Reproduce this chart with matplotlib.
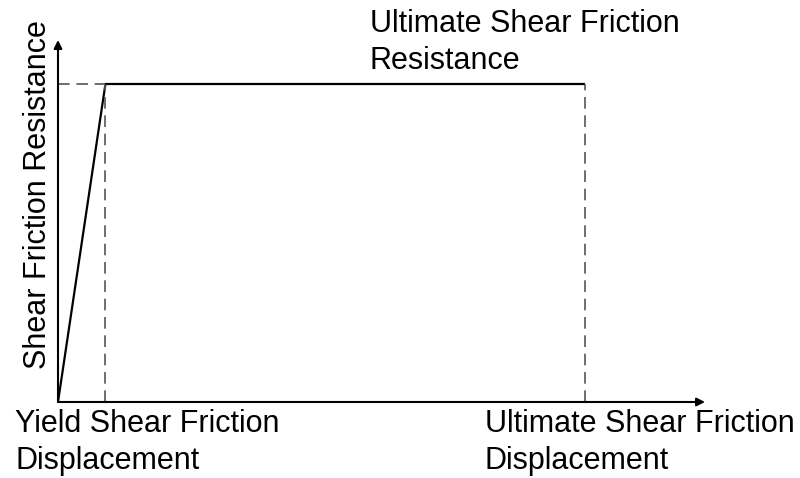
import matplotlib.pyplot as plt

plt.rcParams['font.family'] = ['Liberation Sans', 'DejaVu Sans']

# idealised shear friction law (normalised units)
disp = [0.0, 0.09, 1.0]
resist = [0.0, 1.0, 1.0]
yield_disp = 0.09
ult_disp = 1.0
ult_resist = 1.0

fig = plt.figure(figsize=(8, 4.78), dpi=100)
ax = fig.add_axes([58/800, 76/478, 647/800, 362/478])
xmax = 647/527
ymax = 362/318
ax.set_xlim(0, xmax)
ax.set_ylim(0, ymax)
for s in ax.spines.values():
    s.set_visible(False)
ax.set_xticks([])
ax.set_yticks([])

# axes with arrows
arrow = dict(arrowstyle='-|>', color='black', lw=1.5, mutation_scale=12, shrinkA=0, shrinkB=0)
ax.annotate('', xy=(xmax, 0), xytext=(0, 0), arrowprops=arrow, annotation_clip=False)
ax.annotate('', xy=(0, ymax), xytext=(0, 0), arrowprops=arrow, annotation_clip=False)

ax.plot(disp, resist, color='black', lw=1.6, solid_capstyle='butt', clip_on=False)

dash = dict(color='#555555', lw=1.2, dashes=(7, 4), clip_on=False)
ax.plot([0, yield_disp], [ult_resist, ult_resist], **dash)
ax.plot([yield_disp, yield_disp], [0, ult_resist], **dash)
ax.plot([ult_disp, ult_disp], [0, ult_resist], **dash)

fs = 22
fig.text(38/800, 1 - 195/478, 'Shear Friction Resistance', rotation=90, fontsize=fs,
         ha='center', va='center')
fig.text(15/800, 1 - 409/478, 'Yield Shear Friction\nDisplacement', fontsize=fs,
         ha='left', va='top', linespacing=1.3)
fig.text(485/800, 1 - 409/478, 'Ultimate Shear Friction\nDisplacement', fontsize=fs,
         ha='left', va='top', linespacing=1.3)
fig.text(370/800, 1 - 9/478, 'Ultimate Shear Friction\nResistance', fontsize=fs,
         ha='left', va='top', linespacing=1.3)

fig.savefig('out.png', dpi=100)
